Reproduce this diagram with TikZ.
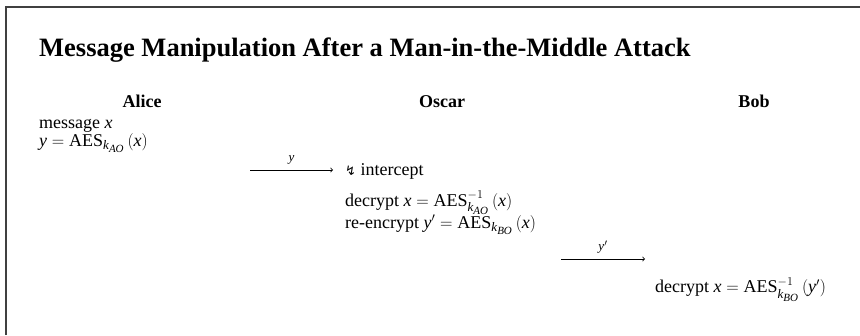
\documentclass[tikz,border=0pt]{standalone}
\usepackage{amsmath}
\usepackage{fontspec}
\setmainfont{Liberation Serif}
\DeclareSymbolFont{letters}{TU}{\rmdefault}{m}{it}
\DeclareMathSizes{18}{18}{13}{11}
\DeclareMathSizes{13}{13}{10}{8}
\newfontfamily\symfont{DejaVu Sans}
\tikzset{
  body/.style={inner sep=0pt, font=\fontsize{18}{18}\selectfont},
  head/.style={inner sep=0pt, font=\fontsize{18}{18}\selectfont\bfseries},
  ttl/.style={inner sep=0pt, font=\fontsize{26.5}{26.5}\selectfont\bfseries},
  msgarrow/.style={->, line width=0.8pt},
  lbl/.style={inner sep=0pt, above=5pt, font=\fontsize{13}{13}\selectfont},
  frame/.style={line width=1.5pt, draw=black!75}
}
\begin{document}
\begin{tikzpicture}[x=1pt,y=-1pt]
\useasboundingbox (0,0) rectangle (860,335);
\fill[white] (0,0) rectangle (860,335);
\draw[frame] (6,335) -- (6,7) -- (860,7);
\node[ttl, anchor=base west] (title) at (39,56) {Message Manipulation After a Man-in-the-Middle Attack};
\node[head, anchor=base] (alice) at (142,107.5) {Alice};
\node[head, anchor=base] (oscar) at (442,107.5) {Oscar};
\node[head, anchor=base] (bob) at (754,107.5) {Bob};
\node[body, anchor=base west] (msg) at (39,128) {message $x$};
\node[body, anchor=base west] (enc) at (39,146) {$y=\mathrm{AES}_{k_{AO}}\,(x)$};
\coordinate (a1s) at (250,170);
\coordinate (a1e) at (333,170);
\draw[msgarrow] (a1s) -- node[lbl] (ly) {$y$} (a1e);
\node[body, anchor=base west] (icpt) at (345,175.5) {{\symfont\fontsize{13}{13}\selectfont ↯} intercept};
\node[body, anchor=base west] (dec1) at (345,206) {decrypt $x=\mathrm{AES}^{-1}_{k_{AO}}\,(x)$};
\node[body, anchor=base west] (reenc) at (345,228) {re-encrypt $y'=\mathrm{AES}_{k_{BO}}\,(x)$};
\coordinate (a2s) at (561,259);
\coordinate (a2e) at (645,259);
\draw[msgarrow] (a2s) -- node[lbl] (lyp) {$y'$} (a2e);
\node[body, anchor=base west] (dec2) at (655,292.5) {decrypt $x=\mathrm{AES}^{-1}_{k_{BO}}\,(y')$};
\end{tikzpicture}
\end{document}
